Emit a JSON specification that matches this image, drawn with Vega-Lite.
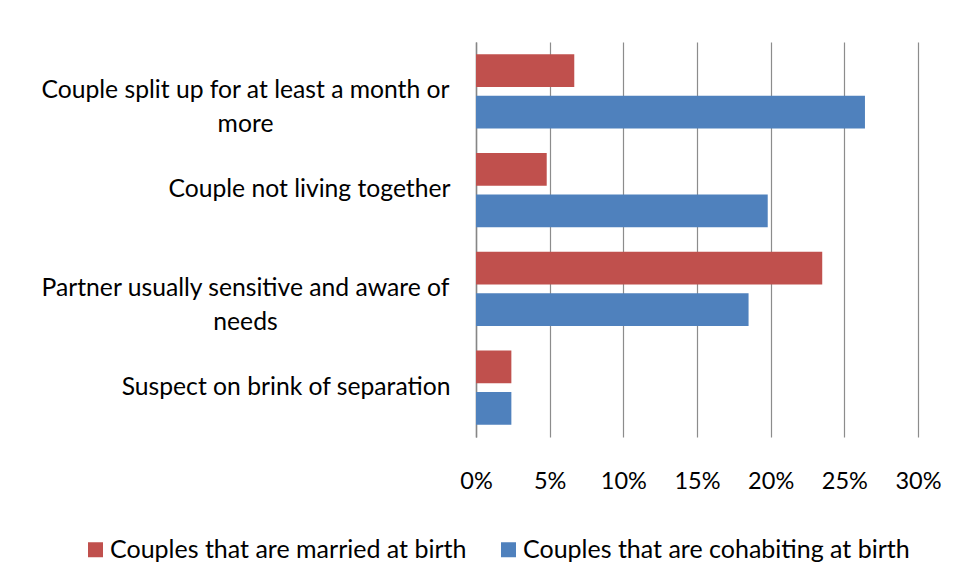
{
  "$schema": "https://vega.github.io/schema/vega-lite/v6.json",
  "width": 442,
  "height": 395,
  "autosize": {"type": "none"},
  "padding": {"left": 476, "top": 42, "right": 39, "bottom": 146},
  "background": "white",
  "config": {"font": "Lato", "view": {"stroke": null}},
  "data": {
    "values": [
      {"category": "Couple split up for at least a month or more", "group": "Couples that are married at birth", "value": 0.0667},
      {"category": "Couple split up for at least a month or more", "group": "Couples that are cohabiting at birth", "value": 0.264},
      {"category": "Couple not living together", "group": "Couples that are married at birth", "value": 0.048},
      {"category": "Couple not living together", "group": "Couples that are cohabiting at birth", "value": 0.198},
      {"category": "Partner usually sensitive and aware of needs", "group": "Couples that are married at birth", "value": 0.235},
      {"category": "Partner usually sensitive and aware of needs", "group": "Couples that are cohabiting at birth", "value": 0.185},
      {"category": "Suspect on brink of separation", "group": "Couples that are married at birth", "value": 0.024},
      {"category": "Suspect on brink of separation", "group": "Couples that are cohabiting at birth", "value": 0.024}
    ]
  },
  "mark": {"type": "bar"},
  "encoding": {
    "y": {
      "field": "category",
      "type": "nominal",
      "sort": ["Couple split up for at least a month or more", "Couple not living together", "Partner usually sensitive and aware of needs", "Suspect on brink of separation"],
      "scale": {"paddingInner": 0.25, "paddingOuter": 0.125},
      "axis": {
        "title": null,
        "domain": true,
        "domainColor": "#868686",
        "domainWidth": 1.5,
        "ticks": false,
        "tickSize": 0,
        "grid": false,
        "labelFontSize": 24.7,
        "labelColor": "#000000",
        "labelLimit": 0,
        "labelLineHeight": 34,
        "labelExpr": "datum.value == 'Couple split up for at least a month or more' ? ['Couple split up for at least a month or', 'more'] : datum.value == 'Partner usually sensitive and aware of needs' ? ['Partner usually sensitive and aware of', 'needs'] : datum.value",
        "labelAlign": {"condition": {"test": "length(datum.value) > 35", "value": "center"}, "value": "right"},
        "labelPadding": {"condition": {"test": "length(datum.value) > 35", "value": 231}, "value": 26}
      }
    },
    "yOffset": {
      "field": "group",
      "sort": ["Couples that are married at birth", "Couples that are cohabiting at birth"],
      "scale": {"paddingInner": 0.21}
    },
    "x": {
      "field": "value",
      "type": "quantitative",
      "scale": {"domain": [0, 0.3], "nice": false},
      "axis": {
        "title": null,
        "format": "%",
        "values": [0, 0.05, 0.1, 0.15, 0.2, 0.25, 0.3],
        "grid": true,
        "gridColor": "#8c8c8c",
        "gridWidth": 1.2,
        "domain": false,
        "ticks": false,
        "tickSize": 0,
        "labelPadding": 32,
        "labelFontSize": 23.5,
        "labelColor": "#000000",
        "labelFlush": false,
        "labelOverlap": false
      }
    },
    "color": {
      "field": "group",
      "type": "nominal",
      "scale": {
        "domain": ["Couples that are married at birth", "Couples that are cohabiting at birth"],
        "range": ["#C0504D", "#4F81BD"]
      },
      "legend": {
        "title": null,
        "orient": "none",
        "direction": "horizontal",
        "legendX": -393,
        "legendY": 495,
        "symbolType": "square",
        "symbolSize": 225,
        "symbolStrokeWidth": 0,
        "symbolOpacity": 1,
        "labelFontSize": 25,
        "labelColor": "#000000",
        "labelLimit": 0,
        "labelOffset": 2,
        "columnPadding": 29
      }
    }
  }
}
